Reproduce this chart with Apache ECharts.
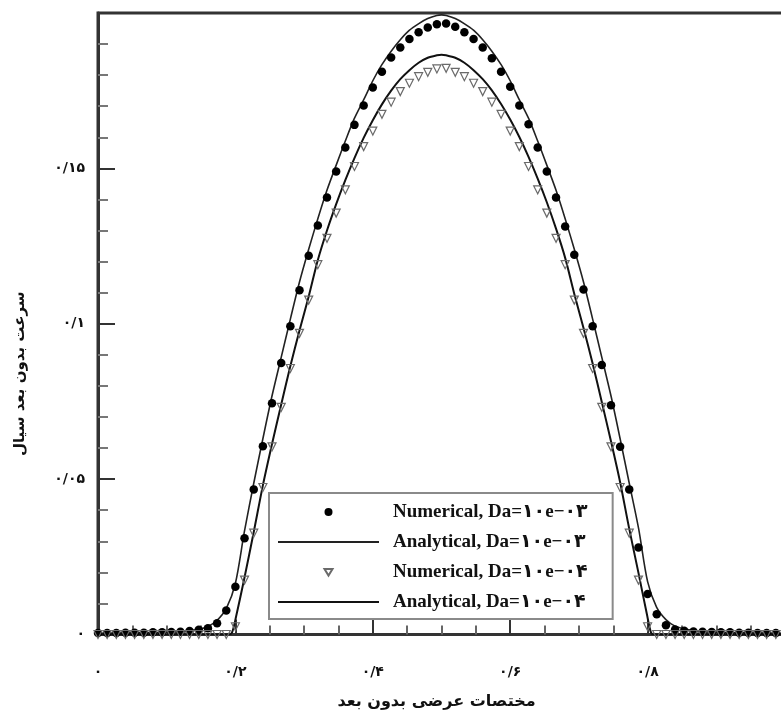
<!DOCTYPE html>
<html><head><meta charset="utf-8">
<script src="https://cdn.jsdelivr.net/npm/echarts@6/dist/echarts.min.js"></script>
<style>html,body{margin:0;padding:0;background:#fff}#c{width:781px;height:712px}</style>
</head><body><div id="c"></div>
<script>
// shared numerical mesh (x positions of the markers)
const gridX = [0,0.0133,0.0267,0.04,0.0533,0.0667,0.08,0.0933,0.1067,0.12,0.1333,0.1467,0.16,0.1733,0.1867,0.2,0.2133,0.2267,0.24,0.2533,0.2667,0.28,0.2933,0.3067,0.32,0.3333,0.3467,0.36,0.3733,0.3867,0.4,0.4133,0.4267,0.44,0.4533,0.4667,0.48,0.4933,0.5067,0.52,0.5333,0.5467,0.56,0.5733,0.5867,0.6,0.6133,0.6267,0.64,0.6533,0.6667,0.68,0.6933,0.7067,0.72,0.7333,0.7467,0.76,0.7733,0.7867,0.8,0.8133,0.8267,0.84,0.8533,0.8667,0.88,0.8933,0.9067,0.92,0.9333,0.9467,0.96,0.9733,0.9867,1];
// Numerical, Da=1e-3 (filled dots)
const numY3 = [0.0005,0.0005,0.0005,0.0006,0.0006,0.0006,0.0007,0.0007,0.0008,0.0009,0.0011,
0.0015,0.002,0.0036,0.0077,0.0154,0.031,0.0467,0.0606,0.0744,0.0874,0.0992,0.1108,0.1219,0.1316,0.1406,0.149,0.1567,0.164,0.1702,0.176,0.1811,0.1857,0.1889,0.1916,0.1938,0.1953,0.1964,
0.1966,0.1956,0.1938,0.1916,0.1889,0.1854,0.1811,0.1763,0.1702,0.1642,0.1567,0.149,0.1406,0.1313,0.1222,0.111,0.0992,0.0867,0.0738,0.0604,0.0467,0.028,0.013,0.0065,0.003,0.0016,0.0012,0.001,0.0009,0.0008,0.0007,0.0007,0.0006,0.0006,0.0005,0.0005,0.0005,0.0005];
// Numerical, Da=1e-4 (hollow triangles)
const numY4 = [0,0,0,0,0,0,0,0,0,0,0,0,0,0,0,
0.0025,0.0175,0.0326,0.0473,0.0604,0.0731,0.0856,0.0969,0.1076,0.119,0.1275,0.1356,0.1431,0.1506,0.157,0.162,0.1674,0.1713,0.1747,0.1774,0.1795,0.1809,0.182,
0.1822,0.1809,0.1795,0.1774,0.1747,0.1713,0.1674,0.162,0.157,0.1506,0.1431,0.1356,0.1275,0.119,0.1076,0.0969,0.0856,0.0731,0.0604,0.0473,0.0326,0.0175,0.0025,
0,0,0,0,0,0,0,0,0,0,0,0,0,0,0];
// Analytical, Da=1e-3
const anaX3 = [0,0.08,0.12,0.14,0.16,0.173,0.187,0.2,0.213,0.227,0.24,0.253,0.267,0.28,0.293,0.307,0.32,0.333,0.347,0.36,0.373,0.387,0.4,0.413,0.427,0.44,0.453,0.467,0.48,0.493,0.5,0.507,0.52,0.533,0.547,0.56,0.573,0.587,0.6,0.613,0.627,0.64,0.653,0.667,0.68,0.693,0.707,0.72,0.733,0.747,0.76,0.773,0.787,0.8,0.813,0.827,0.84,0.86,0.88,0.92,1];
const anaY3 = [0.0004,0.0006,0.0009,0.0014,0.0026,0.0045,0.0085,0.0165,0.033,0.049,0.063,0.0765,0.0895,0.1015,0.1132,0.1242,0.1338,0.1428,0.1512,0.1588,0.166,0.1722,0.1782,0.1833,0.1878,0.1914,0.1944,0.1966,0.1982,0.1992,0.1994,0.1992,0.1982,0.1966,0.1944,0.1914,0.1878,0.1833,0.1782,0.1722,0.166,0.1588,0.1512,0.1428,0.1338,0.1242,0.1132,0.1015,0.0895,0.0765,0.063,0.049,0.034,0.017,0.0088,0.0047,0.0027,0.0015,0.0009,0.0006,0.0004];
// Analytical, Da=1e-4
const anaX4 = [0,0.19,0.195,0.201,0.2134,0.227,0.24,0.2533,0.2667,0.28,0.2933,0.3067,0.32,0.3333,0.3467,0.36,0.3733,0.3867,0.4,0.4133,0.4267,0.44,0.4533,0.4667,0.48,0.4933,0.5,0.5067,0.52,0.5333,0.5467,0.56,0.5733,0.5867,0.6,0.6133,0.6267,0.64,0.6533,0.6667,0.68,0.6933,0.7067,0.72,0.7333,0.7467,0.76,0.773,0.787,0.799,0.805,0.81,1];
const anaY4 = [0,0,0.0006,0.0058,0.0185,0.0333,0.048,0.0613,0.074,0.0864,0.0978,0.1088,0.1205,0.13,0.1385,0.1462,0.1533,0.1598,0.1655,0.1706,0.175,0.1787,0.1816,0.184,0.1856,0.1864,0.1866,0.1864,0.1856,0.184,0.1816,0.1787,0.1751,0.1707,0.1657,0.1601,0.1537,0.1467,0.1391,0.1306,0.1212,0.1096,0.0986,0.0872,0.0748,0.0622,0.049,0.0343,0.0195,0.0065,0.0006,0,0];

const seriesNames = ['Numerical, Da=۱۰e−۰۳','Analytical, Da=۱۰e−۰۳','Numerical, Da=۱۰e−۰۴','Analytical, Da=۱۰e−۰۴'];
const xTickLabels = ['۰','۰/۲','۰/۴','۰/۶','۰/۸',''];
const yTickLabels = ['۰','۰/۰۵','۰/۱','۰/۱۵',''];
const xTitle = 'مختصات عرضی بدون بعد';
const yTitle = 'سرعت بدون بعد سیال';

const faFont = "'DejaVu Sans', sans-serif";
const zip = (xs, ys) => xs.map((x, i) => [x, ys[i]]);
const noDot = {color: 'rgba(0,0,0,0)', borderWidth: 0};

const chart = echarts.init(document.getElementById('c'), null, {renderer: 'canvas'});
chart.setOption({
  animation: false,
  backgroundColor: '#ffffff',
  grid: {left: 98, top: 13, width: 687, height: 621.5, outerBoundsMode: 'none', containLabel: false, show: true, borderColor: '#333', borderWidth: 3, backgroundColor: 'transparent'},
  legend: {
    orient: 'vertical', left: 269, top: 493,
    itemWidth: 101, itemHeight: 8, itemGap: 8,
    padding: [8, 25, 6, 8],
    symbolRotate: 0,
    borderColor: '#8a8a8a', borderWidth: 2, backgroundColor: '#fff',
    textStyle: {fontFamily: "'Liberation Serif', 'DejaVu Sans', serif", fontWeight: 'bold', fontSize: 19, color: '#111', lineHeight: 22, padding: [0, 0, 0, 9]},
    data: [
      {name: seriesNames[0], icon: 'circle'},
      {name: seriesNames[1], itemStyle: noDot},
      {name: seriesNames[2], icon: 'path://M0,0 M101,8 M46.5,1 L54.5,1 L50.5,7.5 Z'},
      {name: seriesNames[3], itemStyle: noDot}
    ]
  },
  xAxis: {
    type: 'value', min: 0, max: 1, interval: 0.2,
    name: xTitle, nameLocation: 'middle', nameGap: 59,
    nameTextStyle: {fontFamily: faFont, fontWeight: 'bold', fontSize: 16, color: '#111', padding: [0, 10, 0, 0]},
    axisLine: {lineStyle: {color: '#333', width: 3}},
    axisTick: {inside: true, length: 15, lineStyle: {color: '#333', width: 2}},
    minorTick: {show: true, splitNumber: 4, length: 9, lineStyle: {color: '#666', width: 2}},
    axisLabel: {margin: 31, fontFamily: faFont, fontWeight: 'bold', fontSize: 14, color: '#111', formatter: (v, i) => xTickLabels[i]},
    splitLine: {show: false}
  },
  yAxis: {
    type: 'value', min: 0, max: 0.2, interval: 0.05,
    name: yTitle, nameLocation: 'middle', nameGap: 70,
    nameTextStyle: {fontFamily: faFont, fontWeight: 'bold', fontSize: 15, color: '#111', padding: [0, 100, 0, 0]},
    axisLine: {lineStyle: {color: '#333', width: 3}},
    axisTick: {inside: true, length: 17, lineStyle: {color: '#333', width: 2}},
    minorTick: {show: true, splitNumber: 5, length: 10, lineStyle: {color: '#777', width: 2}},
    axisLabel: {margin: 13, fontFamily: faFont, fontWeight: 'bold', fontSize: 14, color: '#111', formatter: (v, i) => yTickLabels[i]},
    splitLine: {show: false}
  },
  series: [
    {name: seriesNames[1], type: 'line', data: zip(anaX3, anaY3), symbol: 'none', smooth: 0.3, lineStyle: {color: '#222', width: 1.6}, itemStyle: {color: '#222'}, z: 2},
    {name: seriesNames[3], type: 'line', data: zip(anaX4, anaY4), symbol: 'none', smooth: 0.3, lineStyle: {color: '#111', width: 2}, itemStyle: {color: '#111'}, z: 2},
    {name: seriesNames[0], type: 'scatter', data: zip(gridX, numY3), symbol: 'circle', symbolSize: 8.5, itemStyle: {color: '#000', opacity: 1}, z: 3},
    {name: seriesNames[2], type: 'scatter', data: zip(gridX, numY4), symbol: 'triangle', symbolRotate: 180, symbolSize: 8, itemStyle: {color: 'rgba(255,255,255,0)', borderColor: '#6a6a6a', borderWidth: 1.2, opacity: 1}, z: 4}
  ]
});
</script>
</body></html>
